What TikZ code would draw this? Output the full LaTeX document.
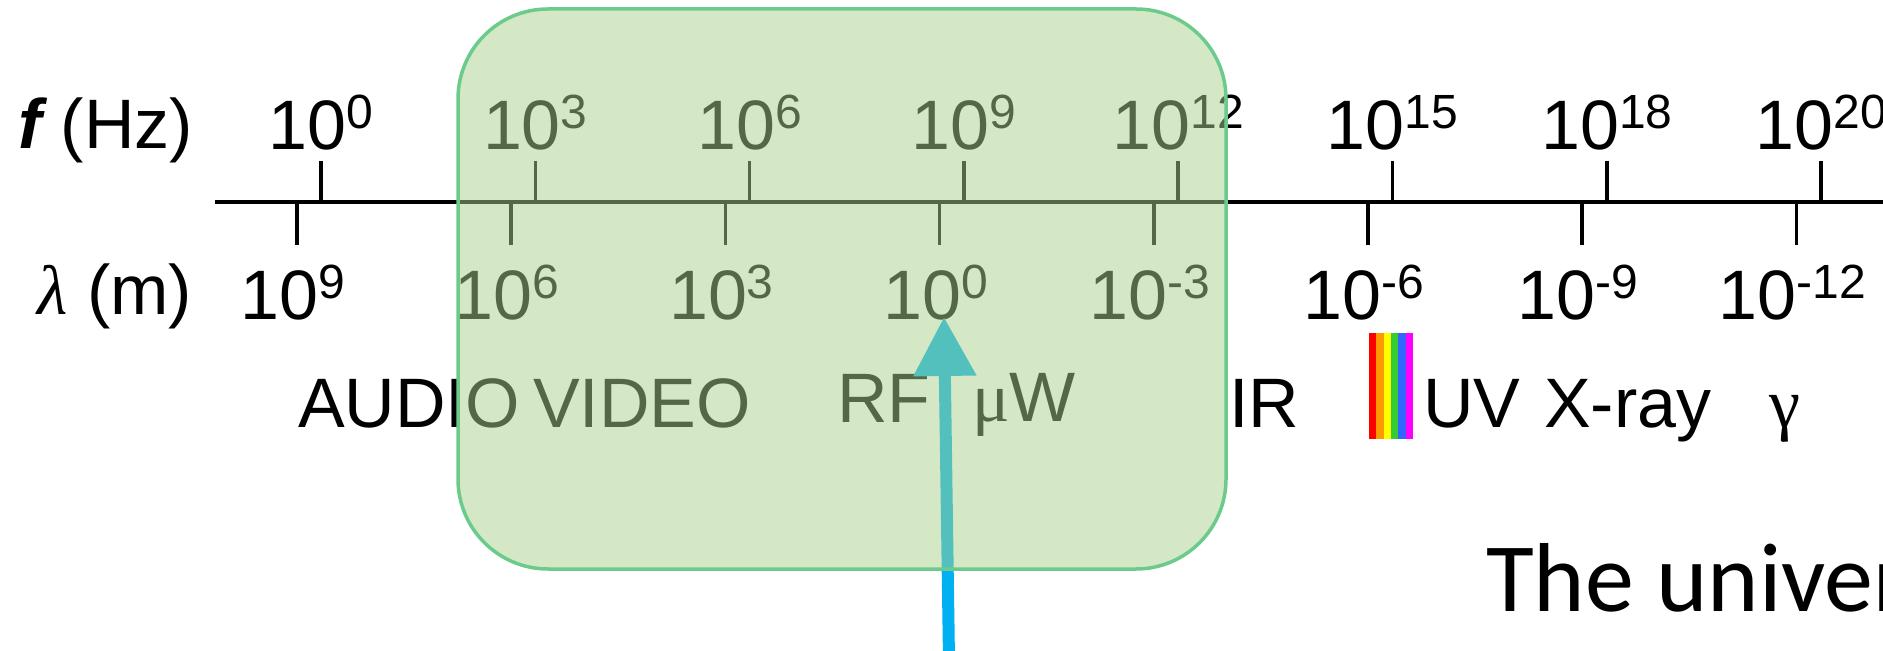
\documentclass[tikz,border=0pt]{standalone}
\usepackage{fontspec}
\setmainfont{Liberation Sans}
\newfontfamily\serifgr{Liberation Serif}
\newfontfamily\calib{Carlito}
\usetikzlibrary{arrows.meta}
\definecolor{boxfill}{HTML}{A9D18E}
\definecolor{boxline}{RGB}{108,202,140}
\definecolor{arrowblue}{HTML}{00B0F0}
\definecolor{rbred}{HTML}{FF0000}
\definecolor{rborange}{HTML}{FF9900}
\definecolor{rbyellow}{HTML}{FFFF00}
\definecolor{rbgreen}{HTML}{33CC33}
\definecolor{rbblue}{HTML}{3366FF}
\definecolor{rbmagenta}{HTML}{FF00FF}
\newcommand\tenp[1]{10\raisebox{10.5pt}{\fontsize{24pt}{24pt}\selectfont #1}}
\begin{document}
\begin{tikzpicture}[x=0.5pt,y=-0.5pt,
  lbl/.style={inner sep=0pt,outer sep=0pt,font=\fontsize{35pt}{35pt}\selectfont},
  tickline/.style={line width=1.75pt,black},
  bigtxt/.style={inner sep=0pt,outer sep=0pt,font=\calib\fontsize{49pt}{49pt}\selectfont},
  bandbox/.style={line width=1.75pt,draw=boxline,fill=boxfill,fill opacity=0.5,rounded corners=45pt},
  beam/.style={arrowblue,line width=6pt,-{Triangle[width=30pt,length=29.5pt]}}]
\useasboundingbox (0,0) rectangle (1883,651);
\clip (0,0) rectangle (1883,651);
% axis
\draw[tickline] (215,202) -- (1890,202);
% frequency labels and ticks
\foreach \i/\e in {0/0,1/3,2/6,3/9,4/12,5/15,6/18,7/20}{
  \draw[tickline] ({321+214.3*\i},161) -- ({321+214.3*\i},202);
  \node[lbl,anchor=base] (f\i) at ({321+214.3*\i},150) {\tenp{\e}};
}
% wavelength labels and ticks
\foreach \i/\e in {0/9,1/6,2/3,3/0,4/-3,5/-6,6/-9,7/-12}{
  \draw[tickline] ({297+214.2*\i},202) -- ({297+214.2*\i},245);
  \node[lbl,anchor=base] (w\i) at ({293+214.2*\i},320) {\tenp{\e}};
}
% axis titles
\node[lbl,anchor=base east] (ftitle) at (193,149) {{\bfseries\itshape f} (Hz)};
\node[lbl,anchor=base east] (ltitle) at (192,315) {{\serifgr\itshape λ} (m)};
% band labels
\node[lbl,anchor=base west] (audio) at (298,428) {AUDIO};
\node[lbl,anchor=base west] (video) at (533,428) {VIDEO};
\node[lbl,anchor=base west] (rf) at (837,423) {RF};
\node[lbl,anchor=base west] (muw) at (972,422) {{\serifgr μ}W};
\node[lbl,anchor=base west] (ir) at (1229,428) {IR};
\node[lbl,anchor=base west] (uv) at (1423,428) {UV};
\node[lbl,anchor=base west] (xray) at (1544,428) {X-ray};
\node[lbl,anchor=base west] (gam) at (1769,428) {\serifgr γ};
% visible rainbow
\fill[rbred] (1369,333) rectangle (1376.4,439);
\fill[rborange] (1376.3,333) rectangle (1383.7,439);
\fill[rbyellow] (1383.6,333) rectangle (1391,439);
\fill[rbgreen] (1390.9,333) rectangle (1398.3,439);
\fill[rbblue] (1398.2,333) rectangle (1405.6,439);
\fill[rbmagenta] (1405.5,333) rectangle (1413,439);
% caption
\node[bigtxt,anchor=base west] (univ) at (1486,611) {The univer};
% arrow
\coordinate (arrS) at (949,660);
\coordinate (arrE) at (944,317);
\draw[beam] (arrS) -- (arrE);
% highlight box
\draw[bandbox] (458,9) rectangle (1226,569);
\end{tikzpicture}
\end{document}
